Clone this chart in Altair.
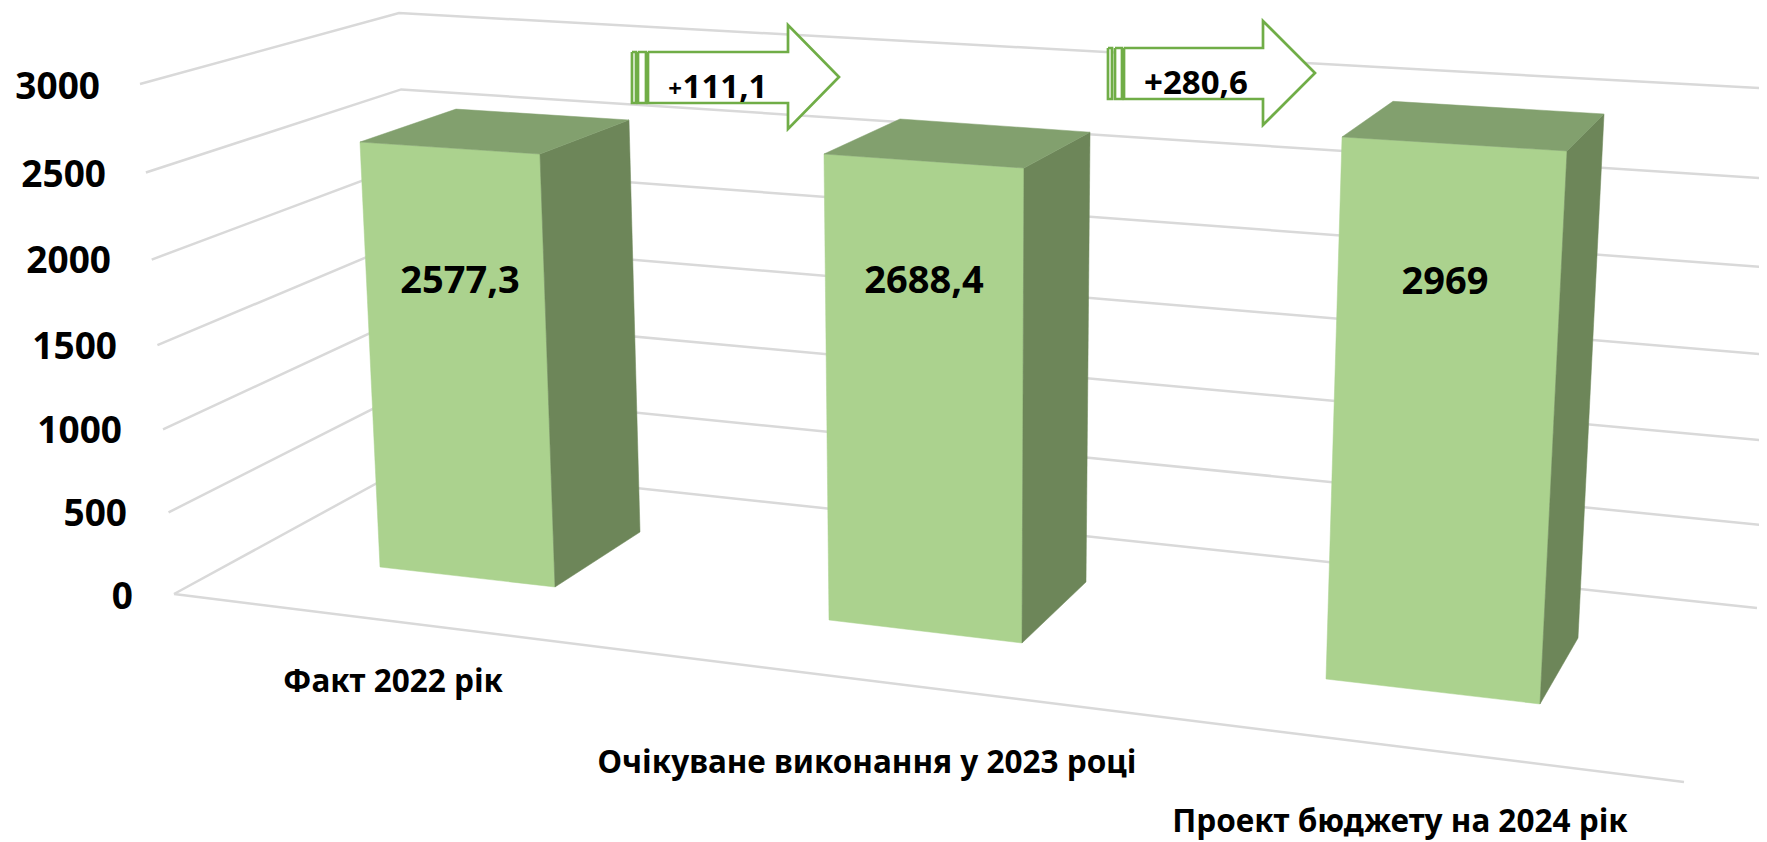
import altair as alt
import pandas as pd

# ---- chart values -------------------------------------------------------
categories = ["Факт 2022 рік", "Очікуване виконання у 2023 році", "Проект бюджету на 2024 рік"]
values = [2577.3, 2688.4, 2969]
value_labels = ["2577,3", "2688,4", "2969"]
ticks = [0, 500, 1000, 1500, 2000, 2500, 3000]
delta_labels = ["111,1", "+280,6"]

# ---- perspective calibration of the picture (pixel space) ---------------
W, H = 1751, 832
OX, OY = 8, 8
AXMAX = 3000
# wall edges: (x, y) at value 0 and at value 3000, with foreshortening weight
edge_left = ((174, 594), (140, 84), 1.05)
edge_back = ((412, 464), (399, 13), 1.02)
edge_right = ((1757, 608), (1793, 90), 1.05)
floor_front = ((174, 594), (1684, 782))
# bar corners: floor position and position at value 3000 (FL, FR, BR, BL)
bar_base = [
    [(380, 567), (555, 587), (640, 532), (465, 512)],
    [(829, 620), (1022, 643), (1086, 582), (893, 559)],
    [(1326, 679), (1540, 704), (1578, 638), (1364, 613)],
]
bar_level = [
    [(356.7, 72.3), (537.5, 83), (627.2, 52.4), (454.5, 43)],
    [(823.4, 100), (1024.2, 113), (1090.5, 80), (900.8, 68)],
    [(1342.2, 131.3), (1567.3, 145.2), (1604.3, 108.5), (1393.3, 96)],
]
FRONT, TOP, SIDE = "#abd28e", "#82a06e", "#6d8659"
GRID, ARROW = "#d9d9d9", "#70ad47"


def persp(edge, v):
    (x0, y0), (x1, y1), w = edge
    t = v / AXMAX
    f = t / (t + w * (1 - t))
    return x0 + (x1 - x0) * f, y0 + (y1 - y0) * f


def raised(base, level, v):
    return base[0] + (level[0] - base[0]) * v / AXMAX, base[1] + (level[1] - base[1]) * v / AXMAX


X = alt.X("px:Q", scale=alt.Scale(domain=[OX, OX + W]), axis=None)
Y = alt.Y("py:Q", scale=alt.Scale(domain=[OY, OY + H], reverse=True), axis=None)

# ---- gridlines ----------------------------------------------------------
rows = []
for t in ticks:
    for i, e in enumerate((edge_left, edge_back, edge_right)):
        p = persp(e, t)
        rows.append({"g": f"t{t}", "o": i, "px": p[0], "py": p[1]})
rows.append({"g": "floor", "o": 0, "px": floor_front[0][0], "py": floor_front[0][1]})
rows.append({"g": "floor", "o": 1, "px": floor_front[1][0], "py": floor_front[1][1]})
grid = alt.Chart(pd.DataFrame(rows)).mark_line(color=GRID, strokeWidth=2.5, clip=True).encode(
    x=X, y=Y, detail="g:N", order="o:Q"
)

# ---- bars ---------------------------------------------------------------
rows = []
for i, v in enumerate(values):
    b, l = bar_base[i], bar_level[i]
    t = [raised(b[k], l[k], v) for k in range(4)]
    faces = [
        ("front", [b[0], b[1], t[1], t[0]]),
        ("side", [b[1], b[2], t[2], t[1]]),
        ("top", [t[0], t[1], t[2], t[3]]),
    ]
    for name, pts in faces:
        for o, p in enumerate(pts + pts[:1]):
            rows.append({"shape": f"{name}{i}", "face": name, "o": o, "px": p[0], "py": p[1]})
face_scale = alt.Scale(domain=["front", "side", "top"], range=[FRONT, SIDE, TOP])
bars = alt.Chart(pd.DataFrame(rows)).mark_line(filled=True, strokeWidth=0.5).encode(
    x=X, y=Y, detail="shape:N", order="o:Q",
    fill=alt.Fill("face:N", scale=face_scale, legend=None),
    stroke=alt.Stroke("face:N", scale=face_scale, legend=None),
)

# ---- striped block arrows -----------------------------------------------
arrow_geo = [
    dict(s1=632, s2=636, s3=638, s4=646, b=648, h=788, tip=839, cy=77, bt=52, bb=103, ht=25, hb=129),
    dict(s1=1108, s2=1112, s3=1115, s4=1122, b=1124, h=1263, tip=1315, cy=73, bt=48, bb=99, ht=21, hb=125),
]
rows = []
for i, a in enumerate(arrow_geo):
    shapes = {
        "body": [(a["b"], a["bt"]), (a["h"], a["bt"]), (a["h"], a["ht"]), (a["tip"], a["cy"]),
                 (a["h"], a["hb"]), (a["h"], a["bb"]), (a["b"], a["bb"])],
        "s1": [(a["s1"], a["bt"]), (a["s2"], a["bt"]), (a["s2"], a["bb"]), (a["s1"], a["bb"])],
        "s2": [(a["s3"], a["bt"]), (a["s4"], a["bt"]), (a["s4"], a["bb"]), (a["s3"], a["bb"])],
    }
    for name, pts in shapes.items():
        for o, p in enumerate(pts + pts[:1]):
            rows.append({"shape": f"{name}{i}", "o": o, "px": p[0], "py": p[1]})
arrows = alt.Chart(pd.DataFrame(rows)).mark_line(
    filled=True, fill="white", stroke=ARROW, strokeWidth=2.7
).encode(x=X, y=Y, detail="shape:N", order="o:Q")

# ---- text ---------------------------------------------------------------
FONT = "Noto Sans"


def text_layer(labels, xs, ys, size, align="center", weight="bold"):
    df = pd.DataFrame({"label": labels, "px": xs, "py": ys})
    return alt.Chart(df).mark_text(
        font=FONT, fontSize=size, fontWeight=weight, align=align, baseline="middle", color="black"
    ).encode(x=X, y=Y, text="label:N")


tick_right = [133, 127, 122, 117, 111, 106, 100]
tick_y = [598, 515, 432, 348, 262, 176, 88]
axis_labels = text_layer([str(t) for t in ticks], tick_right, tick_y, 37, align="right")
value_text = text_layer(value_labels, [460, 924, 1445], [282, 282, 283], 38)
cat_text = text_layer(categories, [393, 867, 1400], [683, 764, 823], 31.5)
delta_text = text_layer(delta_labels, [725, 1196], [88, 84], 33)
plus_text = text_layer(["+"], [675], [90], 24)

chart = alt.layer(
    grid, bars, arrows, axis_labels, value_text, cat_text, delta_text, plus_text
).properties(
    width=W, height=H, padding=0, autosize=alt.AutoSizeParams(type="none")
).configure_view(stroke=None).resolve_scale(fill="shared", stroke="shared")

chart.save("out.html", embed_options={"renderer": "svg", "actions": False})
